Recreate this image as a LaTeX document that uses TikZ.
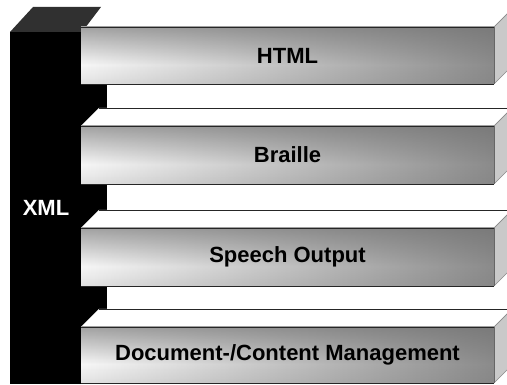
\documentclass[tikz,border=0pt]{standalone}
\usepackage{fontspec}
\setmainfont{Liberation Sans}
\usetikzlibrary{fadings}
\definecolor{cbot}{HTML}{E2E2E2}
\definecolor{cmid}{HTML}{F7F7F7}
\definecolor{ctop}{HTML}{A2A2A2}
\definecolor{cside}{HTML}{C9C9C9}
\definecolor{ctopface}{HTML}{303030}
\pgfdeclareverticalshading{barv}{100bp}{color(0bp)=(cbot); color(25bp)=(cbot); color(42bp)=(cmid); color(75bp)=(ctop); color(100bp)=(ctop)}
\tikzfading[name=fadeR, left color=transparent!100, middle color=transparent!75, right color=transparent!0]
\tikzset{
  frontface/.style={shading=barv, shading angle=0},
  darken/.style={fill={rgb,255:red,112;green,112;blue,112}, fill opacity=0.8, path fading=fadeR},
  edge/.style={draw=black!85, line width=0.6pt},
  sideface/.style={fill=cside, draw=black!45, line width=0.5pt},
  topface/.style={fill=white},
  lbl/.style={font=\fontsize{22}{26}\selectfont\bfseries, text=black, inner sep=0pt},
}
\newcommand\mybar[4]{%
  % #1 top y, #2 height, #3 node name, #4 text
  \fill[sideface] (494,#1) -- (512,#1-18) -- (512,#1+#2-18) -- (494,#1+#2) -- cycle;
  \fill[frontface] (81,#1) rectangle (494,#1+#2);
  \fill[darken] (81,#1) rectangle (494,#1+#2);
  \draw[edge] (81,#1) -- (494,#1);
  \draw[edge] (81,#1+#2) -- (494,#1+#2);
  \draw[black!60, line width=0.6pt] (494,#1) -- (494,#1+#2);
  \draw[black!45, line width=0.4pt] (494,#1) -- (512,#1-18);
  \node[lbl] (#3) at (287.5,#1+#2/2) {#4};
}
\newcommand\mytopface[1]{%
  \fill[topface] (81,#1) -- (99,#1-18) -- (512,#1-18) -- (494,#1) -- cycle;
  \draw[edge] (99,#1-18) -- (512,#1-18);
}
\begin{document}
\begin{tikzpicture}[x=1pt,y=-1pt]
\useasboundingbox (0,0) rectangle (507,385);
\clip (0,0) rectangle (507,385);
\fill[white] (0,0) rectangle (507,385);
% XML spine
\fill[black] (10,32) rectangle (107,384);
\fill[ctopface] (10,32) -- (33,7) -- (101,7) -- (82,32) -- cycle;
\node[font=\fontsize{22}{26}\selectfont\bfseries, text=white, inner sep=0pt] (xml) at (46,208) {XML};
% bars
\mybar{27}{57}{html}{HTML}
\mytopface{126}
\mybar{126}{58}{braille}{Braille}
\mytopface{228}
\mybar{228}{58}{speech}{Speech Output}
\mytopface{327}
\mybar{327}{56}{dcm}{Document-/Content Management}
\end{tikzpicture}
\end{document}
